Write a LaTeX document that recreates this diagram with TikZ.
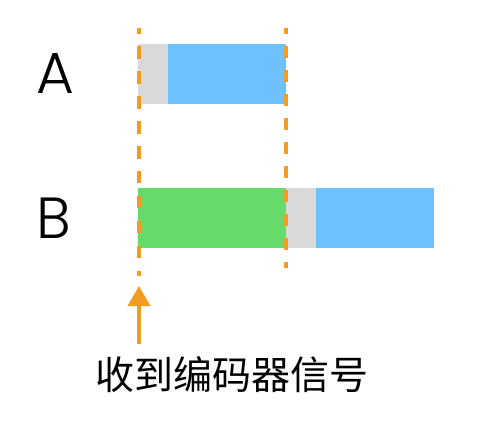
\documentclass[tikz,border=0pt]{standalone}
\usepackage{fontspec}
\setmainfont{Poppins}[UprightFont=* Light]
\newfontfamily\cjk{Noto Sans CJK SC}
\usepackage{tikz}
\usetikzlibrary{arrows.meta,
           positioning}
\definecolor{orangeline}{RGB}{243,156,33}
\definecolor{barblue}{RGB}{110,193,254}
\definecolor{bargreen}{RGB}{103,219,106}
\definecolor{bargray}{RGB}{217,217,217}

\begin{document}
\begin{tikzpicture}[x=1pt,y=-1pt]
\useasboundingbox (0,0) rectangle (498,432);
% lignes A et B
\node[inner sep=0] (A) at (55,73) {\fontsize{58}{58}\selectfont A};
\node[inner sep=0] (B) at (54,218) {\fontsize{58}{58}\selectfont B};
\fill[bargray] (138,44) rectangle (168,104);
\fill[barblue] (168,44) rectangle (286,104);
\fill[bargreen] (138,188) rectangle (286,248);
\fill[bargray] (286,188) rectangle (316,248);
\fill[barblue] (316,188) rectangle (434,248);
% repères
\coordinate (t1) at (139,28);
\coordinate (b1) at (139,276);
\coordinate (t2) at (286,28);
\coordinate (b2) at (286,268);
\draw[orangeline,line width=4pt,dash pattern=on 12.5pt off 12.4pt,dash phase=6.5pt] (t1) -- (b1);
\draw[orangeline,line width=4pt,dash pattern=on 12pt off 12pt,dash phase=6pt] (t2) -- (b2);
% signal
\node[inner sep=0] (sig) at (232,375) {\cjk\fontsize{39}{39}\selectfont 收到编码器信号};
\coordinate (foot) at (139,344);
\coordinate (tip) at (139,286);
\draw[orangeline,line width=4pt,-{Triangle[width=22pt,length=20pt]}] (foot) -- (tip);
\end{tikzpicture}
\end{document}
